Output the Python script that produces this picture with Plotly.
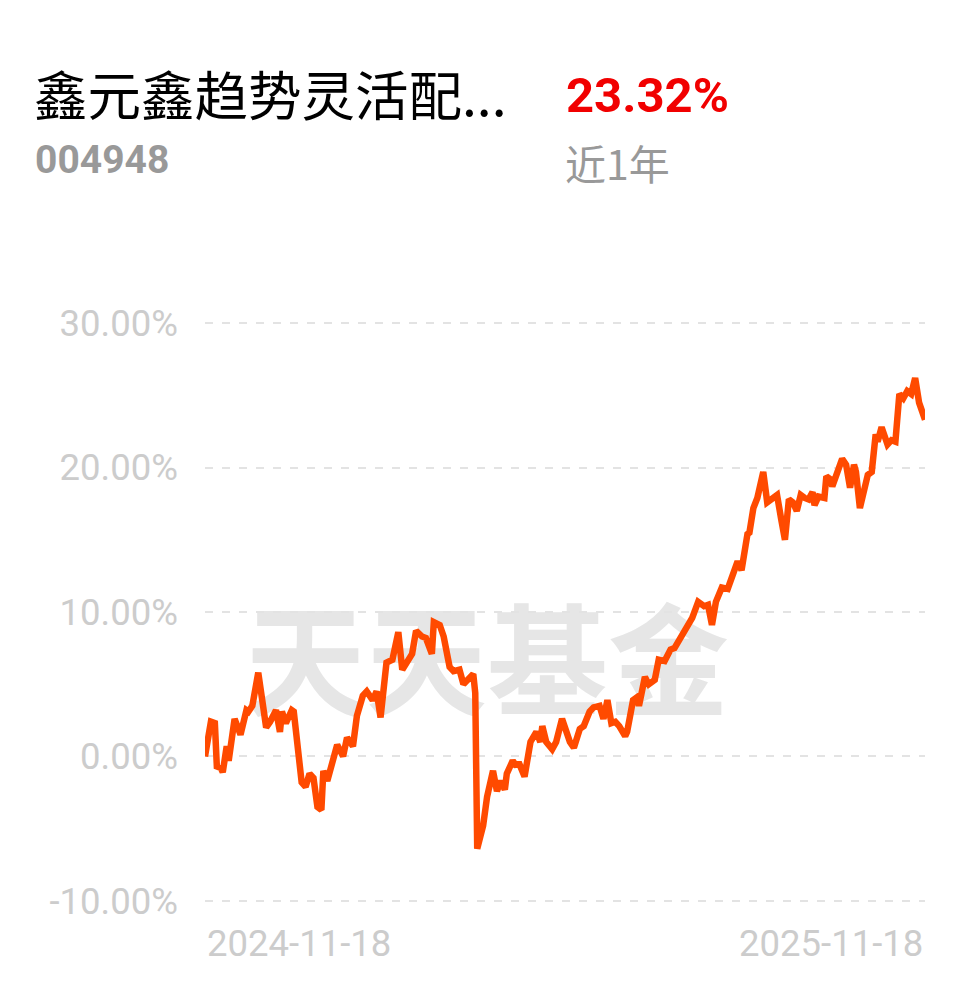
import plotly.graph_objects as go

fund_name = "鑫元鑫趋势灵活配..."
fund_code = "004948"
period_return = "23.32%"
period_label = "近1年"
watermark = "天天基金"

dates = [
    "2024-11-18", "2024-11-21", "2024-11-23", "2024-11-24", "2024-11-26", "2024-11-27",
    "2024-11-29", "2024-11-30", "2024-12-03", "2024-12-04", "2024-12-06", "2024-12-09",
    "2024-12-10", "2024-12-12", "2024-12-15", "2024-12-17", "2024-12-19", "2024-12-21",
    "2024-12-24", "2024-12-26", "2024-12-27", "2024-12-29", "2025-01-01", "2025-01-02",
    "2025-01-06", "2025-01-08", "2025-01-10", "2025-01-12", "2025-01-14", "2025-01-16",
    "2025-01-17", "2025-01-19", "2025-01-21", "2025-01-24", "2025-01-27", "2025-01-29",
    "2025-02-01", "2025-02-03", "2025-02-06", "2025-02-08", "2025-02-11", "2025-02-13",
    "2025-02-15", "2025-02-18", "2025-02-21", "2025-02-24", "2025-02-26", "2025-03-02",
    "2025-03-03", "2025-03-05", "2025-03-08", "2025-03-10", "2025-03-13", "2025-03-14",
    "2025-03-17", "2025-03-19", "2025-03-22", "2025-03-24", "2025-03-27", "2025-03-29",
    "2025-03-31", "2025-04-03", "2025-04-04", "2025-04-05", "2025-04-08", "2025-04-10",
    "2025-04-13", "2025-04-15", "2025-04-17", "2025-04-19", "2025-04-20", "2025-04-23",
    "2025-04-25", "2025-04-26", "2025-04-29", "2025-05-02", "2025-05-05", "2025-05-07",
    "2025-05-08", "2025-05-10", "2025-05-13", "2025-05-15", "2025-05-18", "2025-05-22",
    "2025-05-24", "2025-05-27", "2025-05-29", "2025-06-01", "2025-06-03", "2025-06-06",
    "2025-06-08", "2025-06-10", "2025-06-12", "2025-06-14", "2025-06-16", "2025-06-19",
    "2025-06-20", "2025-06-23", "2025-06-25", "2025-06-26", "2025-06-29", "2025-07-01",
    "2025-07-04", "2025-07-06", "2025-07-09", "2025-07-12", "2025-07-14", "2025-07-17",
    "2025-07-20", "2025-07-23", "2025-07-26", "2025-07-29", "2025-07-31", "2025-08-02",
    "2025-08-04", "2025-08-07", "2025-08-10", "2025-08-13", "2025-08-15", "2025-08-17",
    "2025-08-20", "2025-08-21", "2025-08-23", "2025-08-25", "2025-08-28", "2025-08-30",
    "2025-09-01", "2025-09-04", "2025-09-06", "2025-09-08", "2025-09-10", "2025-09-12",
    "2025-09-14", "2025-09-16", "2025-09-18", "2025-09-20", "2025-09-22", "2025-09-23",
    "2025-09-25", "2025-09-28", "2025-09-29", "2025-10-01", "2025-10-02", "2025-10-04",
    "2025-10-07", "2025-10-09", "2025-10-11", "2025-10-13", "2025-10-14", "2025-10-16",
    "2025-10-18", "2025-10-20", "2025-10-22", "2025-10-24", "2025-10-25", "2025-10-27",
    "2025-10-30", "2025-11-01", "2025-11-03", "2025-11-05", "2025-11-07", "2025-11-09",
    "2025-11-11", "2025-11-13", "2025-11-15", "2025-11-18",
]

returns_pct = [
    0.0, 2.4, 2.3, -0.7, -0.8, -1.1,
    0.7, -0.3, 2.6, 2.3, 1.5, 3.2,
    3.1, 3.5, 5.8, 3.9, 2.0, 2.4,
    3.2, 1.7, 3.1, 2.3, 3.2, 3.1,
    -1.8, -2.1, -1.2, -1.5, -3.5, -3.7,
    -1.0, -1.7, -0.7, 0.8, 0.0, 1.3,
    0.7, 2.8, 4.2, 4.5, 3.9, 4.5,
    2.7, 6.5, 6.7, 8.6, 6.0, 6.9,
    7.1, 8.7, 8.3, 8.2, 7.1, 9.3,
    9.1, 8.3, 6.2, 5.9, 6.0, 5.0,
    5.3, 5.7, 4.4, -6.4, -4.8, -2.8,
    -1.0, -2.4, -1.7, -2.3, -1.2, -0.3,
    -0.7, -0.4, -1.4, 1.0, 1.7, 1.0,
    2.1, 1.0, 0.5, 1.0, 2.6, 1.0,
    0.6, 1.9, 2.1, 3.1, 3.4, 3.5,
    2.6, 3.9, 2.3, 2.4, 2.1, 1.4,
    1.7, 3.9, 4.1, 3.5, 5.5, 5.0,
    5.3, 6.7, 6.6, 7.4, 7.5, 8.2,
    9.0, 9.6, 10.7, 10.4, 10.5, 9.1,
    10.7, 11.7, 11.6, 12.6, 13.5, 12.9,
    15.4, 15.5, 17.2, 17.9, 19.7, 17.6,
    17.8, 18.1, 16.5, 15.0, 17.8, 17.6,
    17.0, 18.1, 17.9, 17.8, 18.3, 17.4,
    18.0, 17.9, 19.4, 19.2, 18.7, 19.5,
    20.6, 20.2, 18.6, 20.2, 19.7, 17.2,
    18.3, 19.5, 19.7, 22.3, 21.8, 22.8,
    21.6, 21.9, 21.8, 25.1, 24.8, 25.3,
    25.1, 26.2, 24.5, 23.32,
]

y_ticks = [-10, 0, 10, 20, 30]
y_tick_labels = ["-10.00%", "0.00%", "10.00%", "20.00%", "30.00%"]
y_range = [-10.5, 30.5]

# page offset of the figure (default body margin)
OFF = 8
W, H = 962, 970
ML, MR, MT, MB = 197, 45, 308, 70
PW, PH = W - ML - MR, H - MT - MB


def px_x(px):
    return (px - OFF - ML) / PW


def px_y(py):
    return (H - MB - (py - OFF)) / PH


fig = go.Figure()
fig.add_trace(go.Scatter(
    x=dates, y=returns_pct, mode="lines",
    line=dict(color="#ff4a00", width=6.5),
    hoverinfo="skip", showlegend=False,
))

fig.add_shape(
    type="rect", xref="paper", yref="paper",
    x0=px_x(237), x1=px_x(737), y0=px_y(740), y1=px_y(605),
    line=dict(width=0), fillcolor="rgba(0,0,0,0)", layer="between",
    label=dict(text=watermark, textposition="middle center",
               font=dict(family="Noto Sans CJK SC", size=121, color="#e6e6e6", weight="bold")),
)

tick_font = dict(family="Roboto", size=36.5, color="#cccccc")

annotations = [
    dict(text=fund_name, x=px_x(32), y=px_y(93), xanchor="left", yanchor="middle",
         font=dict(family="Noto Sans CJK SC", size=53.5, color="#000000")),
    dict(text=fund_code, x=px_x(33), y=px_y(160), xanchor="left", yanchor="middle",
         font=dict(family="Roboto", size=39, color="#999999", weight="bold")),
    dict(text=period_return, x=px_x(564), y=px_y(96), xanchor="left", yanchor="middle",
         font=dict(family="Roboto", size=49, color="#f10000", weight="bold")),
    dict(text=period_label, x=px_x(563), y=px_y(162), xanchor="left", yanchor="middle",
         font=dict(family="Noto Sans CJK SC", size=41, color="#999999")),
    dict(text=dates[0], x=dates[0], xref="x", y=px_y(943), xanchor="left", yanchor="middle",
         font=tick_font),
    dict(text=dates[-1], x=dates[-1], xref="x", y=px_y(943), xanchor="right", yanchor="middle",
         font=tick_font),
]
for a in annotations:
    a.setdefault("xref", "paper")
    a["yref"] = "paper"
    a["showarrow"] = False
fig.update_layout(annotations=annotations)

fig.update_layout(
    width=W, height=H,
    margin=dict(l=ML, r=MR, t=MT, b=MB),
    paper_bgcolor="white", plot_bgcolor="white",
    showlegend=False,
    xaxis=dict(range=[dates[0], dates[-1]], showgrid=False, showticklabels=False,
               zeroline=False, showline=False, ticks=""),
    yaxis=dict(range=y_range, tickvals=y_ticks, ticktext=y_tick_labels,
               showgrid=True, gridcolor="#e3e3e3", gridwidth=2, griddash="8px,9px",
               zeroline=False, showline=False, ticks="", tickfont=tick_font,
               ticklabelstandoff=26),
)

fig.write_html("out.html")
